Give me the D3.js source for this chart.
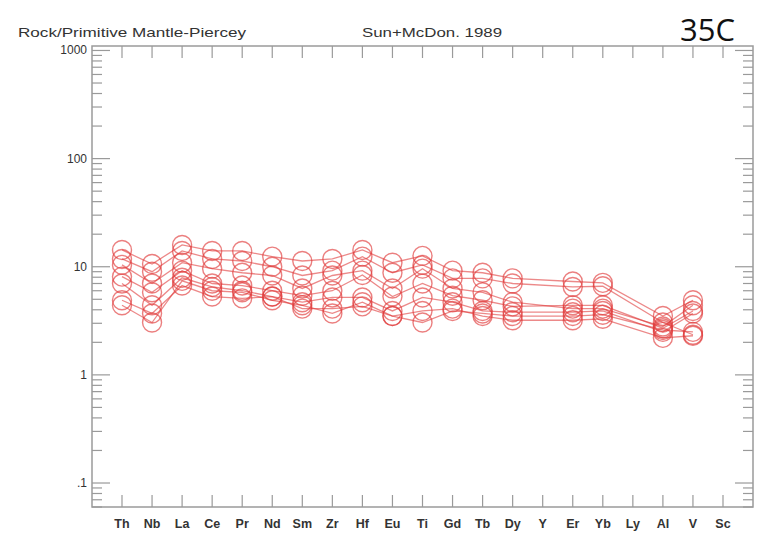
<!DOCTYPE html>
<html lang="en">
<head>
<meta charset="UTF-8">
<title>35C spider diagram</title>
<script src="https://d3js.org/d3.v7.min.js"></script>
<style>
  body { margin: 0; background: #fff; }
  text { font-family: "Liberation Sans", Arial, sans-serif; }
  .frame { fill: none; stroke: #9a9a9a; stroke-width: 1.5px; }
  .tick { stroke: #9a9a9a; stroke-width: 1.2px; }
  .series { fill: none; stroke: #e03a3a; stroke-width: 1.3px; stroke-opacity: 0.6; }
  .pt { fill: none; stroke: #e03a3a; stroke-width: 1.4px; stroke-opacity: 0.65; }
</style>
</head>
<body>
<svg width="761" height="535"></svg>
<script>
const elements = ["Th","Nb","La","Ce","Pr","Nd","Sm","Zr","Hf","Eu","Ti","Gd","Tb","Dy","Y","Er","Yb","Ly","Al","V","Sc"];
const yTickVals = [0.1, 1, 10, 100, 1000];
const yTickLabels = [".1", "1", "10", "100", "1000"];

// normalised values, one list per sample (null = not analysed)
const s1 = [14.3, 10.6, 15.9, 14.0, 14.0, 12.4, 11.3, 11.8, 14.3, 10.9, 12.6, 9.2, 8.8, 7.8, null, 7.3, 7.1, null, 3.5, 4.9, null];
const s2 = [11.8, 9.0, 14.0, 11.8, 11.3, 10.0, 8.3, 9.2, 12.4, 8.8, 10.4, 7.8, 7.8, 7.0, null, 6.5, 6.6, null, 3.05, 2.35, null];
const s3 = [8.1, 5.8, 9.2, 7.0, 6.7, 6.0, 5.4, 6.0, 8.4, 5.3, 7.0, 5.4, 4.9, 4.3, null, 4.4, 4.4, null, 2.7, 3.9, null];
const s4 = [7.0, 4.4, 7.9, 6.5, 6.0, 5.3, 4.7, 5.2, 5.2, 3.9, 5.2, 4.7, 3.9, 3.8, null, 3.8, 3.9, null, 2.5, 3.7, null];
const s5 = [4.9, 3.7, 6.7, 5.3, 5.1, 5.3, 4.1, 4.1, 4.3, 3.5, 3.9, 4.1, 3.5, 3.2, null, 3.2, 3.3, null, 2.2, 2.3, null];
const s6 = [10.4, 7.0, 10.9, 9.6, 8.8, 8.3, 6.3, 8.3, 9.2, 6.3, 9.6, 6.3, 5.8, 4.7, null, 4.1, 4.1, null, 2.8, 4.4, null];
const s7 = [4.4, 3.05, 7.4, 6.0, 5.8, 4.9, 4.4, 3.7, 4.7, 3.5, 3.05, 3.9, 3.7, 3.5, null, 3.5, 3.6, null, 2.6, 2.5, null];
const samples = [s1, s2, s3, s4, s5, s6, s7];

const svg = d3.select("svg");
const plotL = 92, plotR = 753, plotT = 46, plotB = 507;

const x = d3.scalePoint().domain(elements).range([122, 723]);
const y = d3.scaleLog().domain([0.06, 1100]).range([plotB, plotT]);

// header texts (condensed look via textLength)
svg.append("text").attr("x", 18).attr("y", 37).attr("font-size", 13).attr("fill", "#333")
  .attr("textLength", 228).attr("lengthAdjust", "spacingAndGlyphs").text("Rock/Primitive Mantle-Piercey");
svg.append("text").attr("x", 362).attr("y", 37).attr("font-size", 13).attr("fill", "#333")
  .attr("textLength", 140).attr("lengthAdjust", "spacingAndGlyphs").text("Sun+McDon. 1989");
svg.append("text").attr("x", 735).attr("y", 41).attr("font-size", 31).attr("fill", "#111")
  .attr("text-anchor", "end").style("font-family", "'Open Sans', sans-serif").text("35C");

// frame
svg.append("rect").attr("class", "frame").attr("x", plotL).attr("y", plotT)
  .attr("width", plotR - plotL).attr("height", plotB - plotT);

// log ticks on both sides
const minor = [];
for (let e = -2; e <= 3; e++) for (let m = 1; m <= 9; m++) {
  const v = m * Math.pow(10, e);
  if (v >= 0.06 && v <= 1000) minor.push(v);
}
const g = svg.append("g");
minor.forEach(v => {
  const major = yTickVals.includes(v);
  const len = major ? 18 : 10;
  g.append("line").attr("class", "tick").attr("x1", plotL).attr("x2", plotL + len)
    .attr("y1", y(v)).attr("y2", y(v));
  g.append("line").attr("class", "tick").attr("x1", plotR).attr("x2", plotR - len)
    .attr("y1", y(v)).attr("y2", y(v));
});
yTickVals.forEach((v, i) => {
  svg.append("text").attr("x", 87).attr("y", y(v) + 4).attr("text-anchor", "end")
    .attr("font-size", 12).attr("fill", "#333").text(yTickLabels[i]);
});

// category ticks top and bottom
elements.forEach(el => {
  g.append("line").attr("class", "tick").attr("x1", x(el)).attr("x2", x(el))
    .attr("y1", plotT).attr("y2", plotT + 12);
  g.append("line").attr("class", "tick").attr("x1", x(el)).attr("x2", x(el))
    .attr("y1", plotB).attr("y2", plotB - 12);
  svg.append("text").attr("x", x(el)).attr("y", 528).attr("text-anchor", "middle")
    .attr("font-size", 12.5).attr("font-weight", "bold").attr("fill", "#333").text(el);
});

// series: lines join analysed elements, skipping gaps
const line = d3.line().x(d => x(d.el)).y(d => y(d.v));
samples.forEach(s => {
  const pts = s.map((v, i) => ({ el: elements[i], v })).filter(d => d.v != null);
  svg.append("path").attr("class", "series").attr("d", line(pts));
  svg.selectAll(null).data(pts).enter().append("circle").attr("class", "pt")
    .attr("cx", d => x(d.el)).attr("cy", d => y(d.v)).attr("r", 9.5);
});
</script>
</body>
</html>
